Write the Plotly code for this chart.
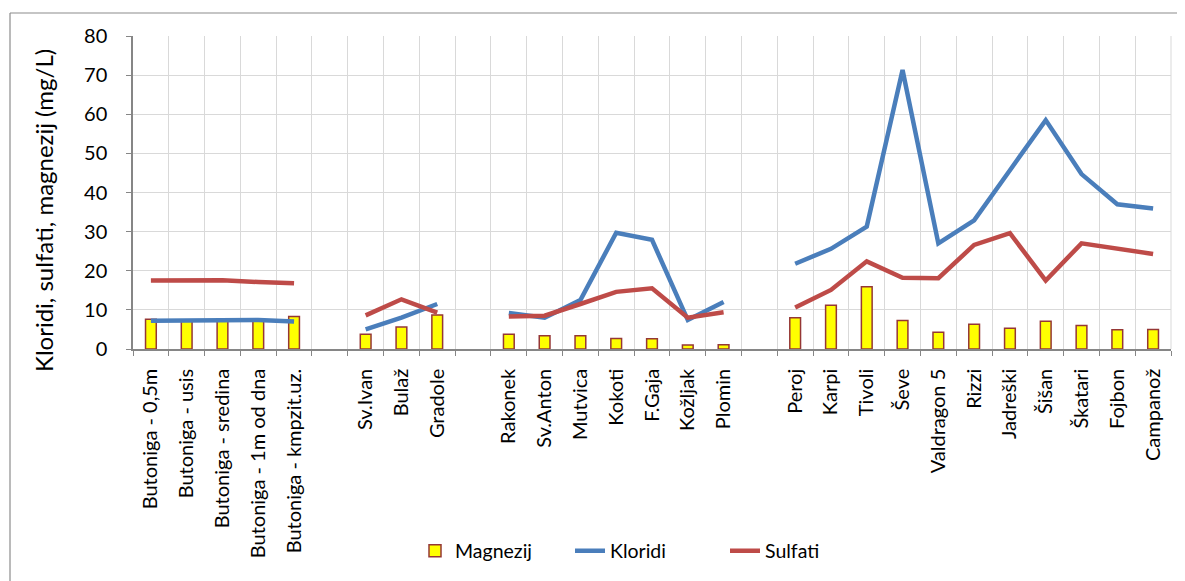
import plotly.graph_objects as go

categories = ["Butoniga - 0,5m", "Butoniga - usis", "Butoniga - sredina", "Butoniga - 1m od dna",
              "Butoniga - kmpzit.uz.", " ", "Sv.Ivan", "Bulaž", "Gradole", "  ",
              "Rakonek", "Sv.Anton", "Mutvica", "Kokoti", "F.Gaja", "Kožljak", "Plomin", "   ",
              "Peroj", "Karpi", "Tivoli", "Ševe", "Valdragon 5", "Rizzi", "Jadreški", "Šišan",
              "Škatari", "Fojbon", "Campanož"]

magnezij = [7.6, 7.4, 7.3, 7.5, 8.3, None, 3.8, 5.6, 8.7, None,
            3.8, 3.4, 3.4, 2.7, 2.6, 1.0, 1.1, None,
            8.0, 11.2, 15.9, 7.3, 4.3, 6.3, 5.3, 7.1, 6.0, 4.9, 5.0]
kloridi = [7.2, 7.3, 7.2, 7.4, 7.0, None, 5.0, 8.0, 11.5, None,
           9.2, 8.0, 12.5, 29.7, 27.9, 7.4, 12.0, None,
           21.8, 25.6, 31.3, 71.3, 27.0, 32.9, 45.7, 58.5, 44.7, 37.0, 35.9]
sulfati = [17.5, 17.6, 17.6, 17.1, 16.8, None, 8.6, 12.7, 9.3, None,
           8.3, 8.5, 11.5, 14.6, 15.5, 8.0, 9.4, None,
           10.6, 15.1, 22.4, 18.2, 18.1, 26.6, 29.6, 17.5, 27.0, 25.7, 24.3]

y_title = "Kloridi, sulfati, magnezij (mg/L)"

OFF = 8  # page body margin
W, H = 1185 - OFF, 581 - OFF
L, R, T, B = 133 - OFF, 1171 - OFF, 36 - OFF, 349 - OFF
FONT = "Lato"


def px_x(px):
    return (px - OFF - L) / (R - L)


def px_y(py):
    return (B - (py - OFF)) / (B - T)


fig = go.Figure()
fig.add_trace(go.Bar(
    x=categories, y=magnezij, name="Magnezij", width=0.3,
    marker=dict(color="#FFFF00", line=dict(color="#953735", width=1.5)),
))
fig.add_trace(go.Scatter(
    x=categories, y=kloridi, name="Kloridi", mode="lines",
    line=dict(color="#4A7EBB", width=4.5), connectgaps=False,
))
fig.add_trace(go.Scatter(
    x=categories, y=sulfati, name="Sulfati", mode="lines",
    line=dict(color="#BE4B48", width=4.5), connectgaps=False,
))

fig.update_layout(
    width=W, height=H,
    margin=dict(l=L, r=W - R, t=T, b=H - B, autoexpand=False),
    paper_bgcolor="white", plot_bgcolor="white",
    font=dict(family=FONT, color="#000000", size=17),
    showlegend=True,
    legend=dict(orientation="h", xref="container", yref="container",
                x=(415 - OFF) / W, y=1 - (551 - OFF) / H, xanchor="left", yanchor="middle",
                font=dict(size=19.5, family=FONT), entrywidth=110, entrywidthmode="pixels",
                bgcolor="rgba(0,0,0,0)"),
    xaxis=dict(
        type="category", tickson="boundaries", ticks="outside", ticklen=5,
        tickcolor="#868686", showline=True, linecolor="#868686", linewidth=1.5,
        showgrid=True, gridcolor="#D9D9D9", gridwidth=1, automargin=False,
        tickangle=-90, tickfont=dict(size=20, family=FONT), ticklabelstandoff=10,
        range=[-0.5, len(categories) - 0.5],
    ),
    yaxis=dict(
        range=[0, 80], dtick=10, ticks="outside", ticklen=5, tickcolor="#868686",
        showline=True, linecolor="#868686", linewidth=1.5,
        showgrid=True, gridcolor="#D9D9D9", gridwidth=1, automargin=False,
        tickfont=dict(size=20, family=FONT), ticklabelstandoff=15,
        zeroline=False,
    ),
    annotations=[
        dict(text=y_title, xref="paper", yref="paper", x=px_x(43), y=px_y(211),
             xanchor="center", yanchor="middle", textangle=-90, showarrow=False,
             font=dict(size=24, family=FONT, color="#000000")),
    ],
    shapes=[
        dict(type="line", xref="paper", yref="paper", x0=1, x1=1, y0=0, y1=1,
             line=dict(color="#D9D9D9", width=1)),
        dict(type="line", xref="paper", yref="paper",
             x0=px_x(10), x1=px_x(10), y0=px_y(600), y1=px_y(13),
             line=dict(color="#8C8C8C", width=1.2)),
        dict(type="line", xref="paper", yref="paper",
             x0=px_x(10), x1=px_x(1200), y0=px_y(13), y1=px_y(13),
             line=dict(color="#8C8C8C", width=1.2)),
    ],
)

fig.write_html("out.html")
